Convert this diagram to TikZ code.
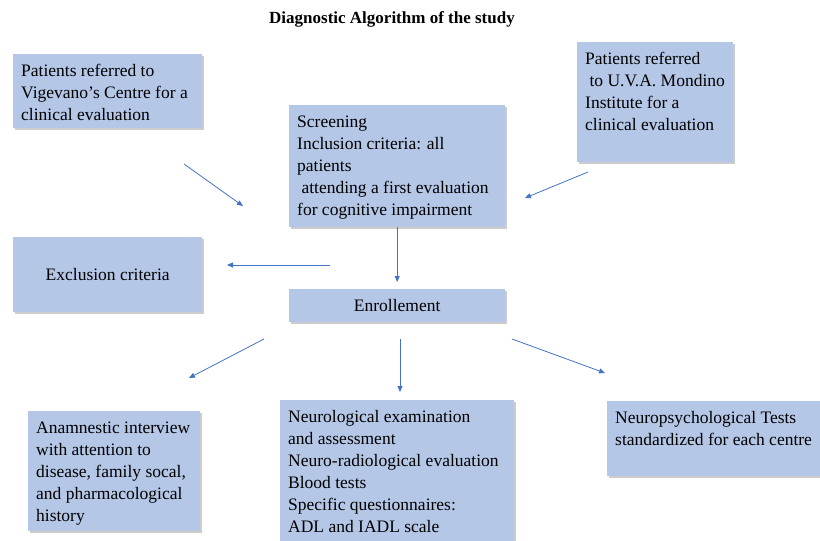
\documentclass[tikz,border=0pt]{standalone}
\usepackage{fontspec}
\setmainfont{Liberation Serif}
\usetikzlibrary{arrows.meta, shadows}
\definecolor{boxfill}{RGB}{180,199,231}
\definecolor{arrowblue}{RGB}{68,114,196}
\tikzset{
  box/.style={
    rectangle, anchor=north west,
    fill=boxfill, inner xsep=8pt, inner ysep=7pt,
    align=left,
    font=\fontsize{17.5}{22}\selectfont,
    drop shadow={shadow xshift=2pt, shadow yshift=-2pt, fill=black, opacity=0.2}
  },
  centerbox/.style={
    box, align=center, inner sep=0pt,
    minimum width=#1
  },
  title/.style={font=\fontsize{17}{20}\selectfont\bfseries},
  arrow/.style={-{Triangle[length=6pt,width=5pt]}, line width=0.8pt, color=arrowblue},
}
% top aligned text of fixed width and height
\newcommand{\boxtext}[3]{\parbox[t][#2][t]{#1}{\strut#3}}

\begin{document}
\begin{tikzpicture}[x=1pt, y=-1pt]
\clip (0,0) rectangle (820,541);

%% ─── TITLE ──────────────────────────────────────────────────
\node[title] (ttl) at (392,19) {Diagnostic Algorithm of the study};

%% ─── REFERRALS ──────────────────────────────────────────────
\node[box] (vig) at (13,54) {%
  \boxtext{173pt}{60pt}{Patients referred to\\
  Vigevano’s Centre for a\\
  clinical evaluation}};

\node[box] (uva) at (577,42) {%
  \boxtext{140pt}{106pt}{Patients referred\\
  \hspace*{0.25em}to U.V.A. Mondino\\
  Institute for a\\
  clinical evaluation}};

%% ─── SCREENING ──────────────────────────────────────────────
\node[box] (screen) at (289,105) {%
  \boxtext{200pt}{108pt}{Screening\\
  Inclusion criteria: all\\
  patients\\
  \hspace*{0.25em}attending a first evaluation\\
  for cognitive impairment}};

%% ─── EXCLUSION / ENROLMENT ──────────────────────────────────
\node[centerbox=189pt, minimum height=75pt] (excl) at (13,237) {Exclusion criteria};

\node[centerbox=216pt, minimum height=33pt] (enrol) at (289,289) {Enrollement};

%% ─── ASSESSMENT ─────────────────────────────────────────────
\node[box] (anam) at (28,411) {%
  \boxtext{156pt}{106pt}{Anamnestic interview\\
  with attention to\\
  disease, family socal,\\
  and pharmacological\\
  history}};

\node[box] (neuro) at (280,400) {%
  \boxtext{218pt}{140pt}{Neurological examination\\
  and assessment\\
  Neuro-radiological evaluation\\
  Blood tests\\
  Specific questionnaires:\\
  ADL and IADL scale}};

\node[box] (npsy) at (607,401) {%
  \boxtext{220pt}{61pt}{Neuropsychological Tests\\
  standardized for each centre}};

%% ─── ARROW ENDS ─────────────────────────────────────────────
\coordinate (vigtail) at (184,164);
\coordinate (vighead) at (243,206);
\coordinate (uvatail) at (588,172);
\coordinate (uvahead) at (525,198);
\coordinate (excltail) at (330,265);
\coordinate (exclhead) at (227,265);
\coordinate (anamtail) at (264,339);
\coordinate (anamhead) at (189,378);
\coordinate (neurotail) at (400,339);
\coordinate (neurohead) at (400,392);
\coordinate (npsytail) at (512,339);
\coordinate (npsyhead) at (605,373);

%% ─── ARROWS ─────────────────────────────────────────────────
\draw[arrow] (vigtail) -- (vighead);
\draw[arrow] (uvatail) -- (uvahead);
\draw[arrow, shorten >=7pt] (screen.south -| enrol.north) -- (enrol.north);
\draw[arrow] (excltail) -- (exclhead);
\draw[arrow] (anamtail) -- (anamhead);
\draw[arrow] (neurotail) -- (neurohead);
\draw[arrow] (npsytail) -- (npsyhead);

\end{tikzpicture}
\end{document}
